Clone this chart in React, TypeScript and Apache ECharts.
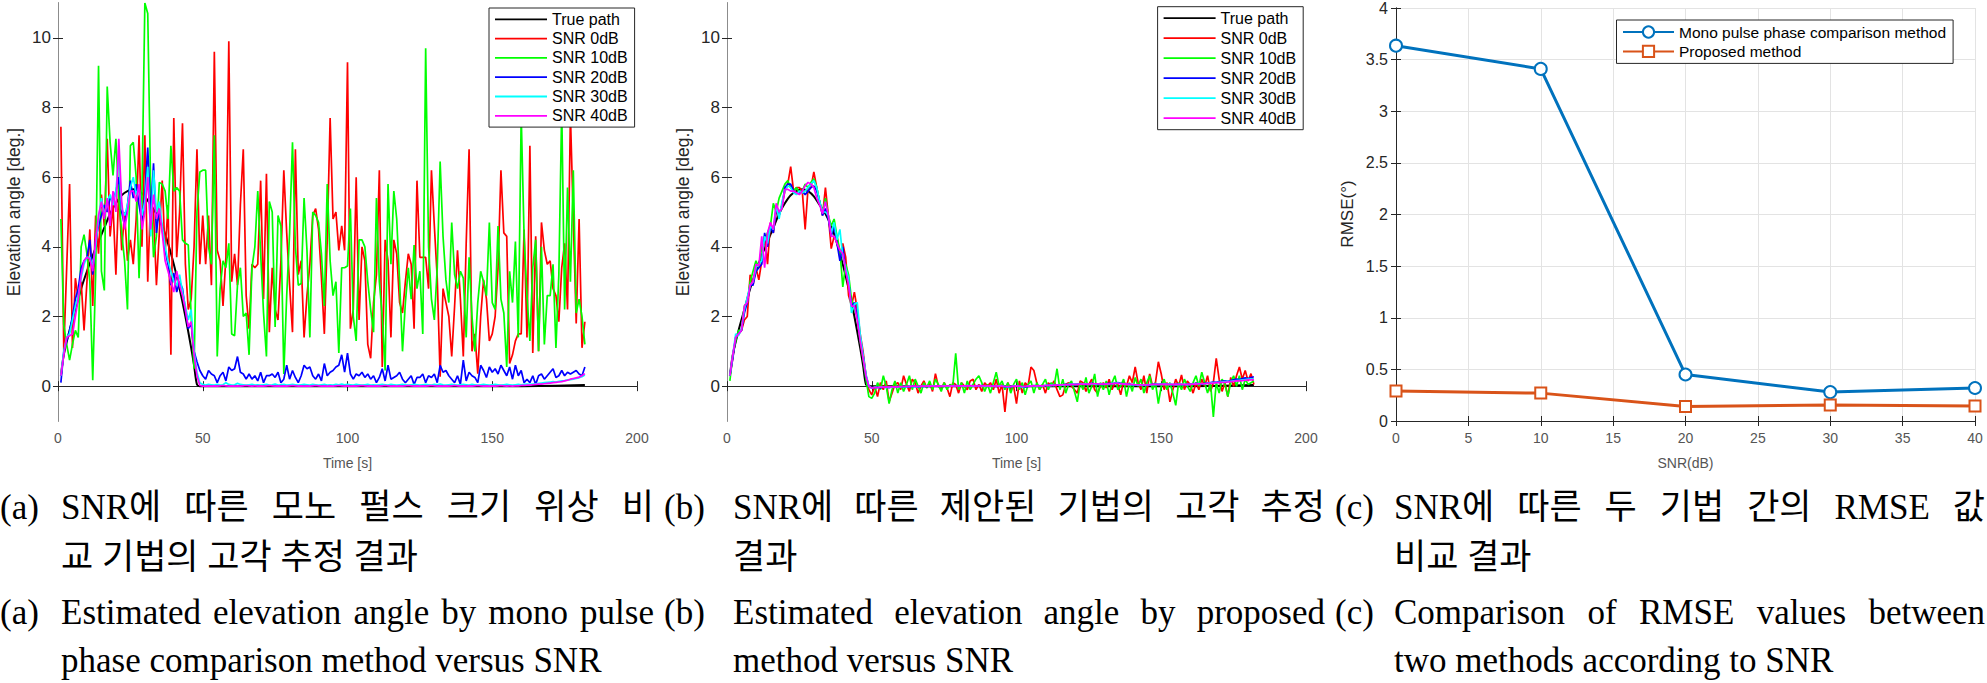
import React, { useEffect, useRef } from 'react';
import * as echarts from 'echarts';

// ---------- data ----------
const TIME = Array.from({ length: 182 }, (_, i) => i + 1);

const TRUE_PATH: number[][] = [
  [1, 0.3], [2, 0.9], [4, 1.6], [6, 2.2], [8, 2.8], [10, 3.3], [12, 3.75], [14, 4.15], [16, 4.55],
  [18, 4.95], [20, 5.25], [22, 5.48], [24, 5.6], [26, 5.65], [28, 5.6], [30, 5.45], [32, 5.2],
  [34, 4.95], [36, 4.6], [38, 4.1], [40, 3.5], [42, 2.8], [44, 2.0], [46, 1.1], [47, 0.6],
  [48, 0.05], [49, 0], [100, 0], [160, 0], [182, 0.03],
];

const A_SNR0 = [
  7.45, 1.0, 3.4, 5.8, 1.1, 3.1, 2.5, 3.0, 1.6, 3.0,
  4.5, 2.3, 4.9, 3.8, 5.5, 4.6, 7.1, 4.3, 5.2, 3.2,
  5.7, 3.9, 5.0, 3.6, 4.2, 3.5, 4.8, 7.2, 4.0, 7.2,
  3.0, 5.4, 5.0, 2.9, 4.4, 5.9, 3.8, 5.2, 0.9, 7.7,
  3.7, 5.0, 7.55, 3.5, 2.2, 2.5, 4.0, 6.8, 3.5, 4.9,
  3.5, 4.9, 2.9, 9.6, 3.9, 3.6, 2.3, 3.7, 9.9, 3.0,
  3.8, 2.9, 5.2, 6.8, 2.6, 1.65, 3.5, 3.4, 3.5, 5.9,
  2.5, 6.1, 1.55, 3.4, 2.2, 1.9, 3.6, 6.2, 4.4, 2.9,
  1.55, 6.8, 3.2, 3.6, 1.4, 2.6, 3.5, 4.9, 5.1, 4.5,
  3.1, 1.5, 4.2, 7.7, 4.8, 5.0, 3.9, 4.6, 3.9, 9.3,
  1.65, 2.2, 6.0, 1.9, 4.0, 3.6, 1.2, 0.8, 2.4, 3.2,
  6.2, 0.55, 4.2, 3.6, 1.4, 4.2, 3.8, 2.4, 2.1, 3.0,
  3.8, 3.5, 1.65, 5.9, 3.7, 3.7, 3.7, 2.8, 6.2, 4.6,
  3.1, 0.27, 2.8, 2.4, 2.0, 0.85, 2.3, 3.9, 2.5, 0.85,
  4.1, 6.8, 1.0, 1.5, 0.36, 2.0, 3.05, 2.5, 1.3, 1.5,
  2.0, 3.4, 6.2, 4.4, 4.3, 0.65, 0.9, 1.3, 1.5, 1.5,
  4.5, 1.4, 6.9, 0.95, 4.3, 1.0, 4.7, 3.9, 3.5, 3.6,
  2.8, 2.6, 1.85, 3.4, 4.1, 2.2, 7.8, 4.8, 1.8, 4.8,
  1.1, 1.85,
];

const A_SNR10 = [
  4.8, 1.75, 1.2, 0.75, 1.2, 1.6, 1.4, 4.0, 4.35, 3.8,
  3.0, 0.17, 3.2, 9.2, 3.3, 2.75, 8.6, 7.0, 6.05, 7.1,
  5.4, 4.4, 3.6, 2.2, 6.9, 7.0, 6.0, 3.1, 5.5, 11.0,
  10.7, 5.7, 3.7, 4.3, 5.85, 5.8, 5.6, 4.8, 6.9, 5.6,
  5.7, 5.6, 4.2, 4.1, 4.05, 2.0, 0.5, 5.0, 6.15, 6.2,
  6.2, 4.0, 3.5, 7.2, 0.85, 2.8, 3.6, 3.4, 4.1, 1.5,
  1.45, 2.9, 3.4, 2.0, 2.1, 0.9, 3.4, 4.0, 5.6, 3.8,
  2.1, 0.85, 5.3, 5.0, 1.7, 4.9, 4.6, 0.35, 2.6, 4.4,
  7.0, 4.0, 2.9, 2.95, 5.4, 3.9, 1.4, 5.0, 4.9, 4.7,
  3.8, 2.3, 5.8, 3.6, 2.6, 3.0, 0.95, 3.4, 3.4, 3.45,
  5.1, 2.0, 1.3, 4.2, 4.2, 4.0, 3.0, 2.2, 1.55, 5.4,
  3.0, 2.0, 0.45, 5.8, 3.5, 5.6, 4.8, 3.0, 1.0, 2.4,
  3.4, 2.5, 4.05, 2.8, 3.3, 1.5, 9.7, 4.0, 2.5, 1.9,
  3.4, 6.45, 4.3, 3.05, 2.4, 4.7, 3.2, 2.8, 3.3, 3.1,
  1.4, 3.7, 2.0, 1.0, 2.4, 3.3, 3.0, 2.6, 4.7, 2.4,
  2.2, 4.6, 2.5, 2.1, 0.55, 3.3, 2.4, 4.15, 1.4, 7.8,
  4.3, 2.6, 1.3, 3.4, 4.2, 1.0, 4.0, 1.2, 2.6, 2.6,
  3.5, 1.1, 3.2, 8.0, 2.2, 5.7, 3.0, 6.2, 2.1, 2.5,
  2.0, 1.2,
];

const A_SNR20 = [
  0.1, 1.0, 1.3, 1.6, 2.0, 2.5, 2.8, 3.4, 3.6, 3.7,
  4.2, 3.2, 4.2, 4.6, 4.9, 5.2, 5.0, 5.4, 5.3, 5.6,
  6.0, 5.0, 4.6, 5.2, 5.9, 5.4, 5.8, 5.2, 4.7, 5.5,
  6.85, 4.9, 6.4, 4.4, 5.1, 4.5, 3.9, 3.5, 2.9, 3.25,
  2.7, 3.0, 2.8, 2.2, 1.65, 1.8, 1.0, 0.7, 0.45, 0.3,
  0.2, 0.45, 0.35, 0.3, 0.1, 0.3, 0.4, 0.15, 0.55, 0.45,
  0.5, 0.85, 0.4, 0.35, 0.2, 0.35, 0.2, 0.3, 0.15, 0.4,
  0.1, 0.3, 0.3, 0.35, 0.25, 0.4, 0.1, 0.2, 0.6, 0.2,
  0.45, 0.25, 0.1, 0.3, 0.6, 0.5, 0.55, 0.3, 0.2, 0.35,
  0.15, 0.65, 0.3, 0.4, 0.45, 0.55, 0.6, 0.9, 0.4, 0.95,
  0.35, 0.2, 0.35, 0.3, 0.4, 0.25, 0.35, 0.2, 0.3, 0.1,
  0.25, 0.5, 0.15, 0.6, 0.2, 0.25, 0.3, 0.4, 0.2, 0.1,
  0.2, 0.3, 0.05, 0.25, 0.25, 0.35, 0.1, 0.3, 0.25, 0.35,
  0.1, 0.6, 0.4, 0.45, 0.3, 0.2, 0.1, 0.3, 0.05, 0.75,
  0.15, 0.4, 0.3, 0.25, 0.1, 0.6, 0.45, 0.25, 0.55, 0.4,
  0.5, 0.35, 0.6, 0.45, 0.3, 0.55, 0.2, 0.6, 0.3, 0.45,
  0.1, 0.2, 0.1, 0.3, 0.05, 0.3, 0.35, 0.2, 0.3, 0.4,
  0.5, 0.25, 0.3, 0.45, 0.3, 0.4, 0.35, 0.4, 0.45, 0.35,
  0.3, 0.55,
];

const A_SNR30 = [
  0.3, 1.0, 1.4, 1.5, 1.9, 2.3, 2.6, 3.1, 3.5, 3.7,
  3.7, 3.4, 4.0, 4.8, 5.4, 4.9, 5.3, 5.5, 5.2, 5.6,
  6.6, 5.1, 4.9, 5.2, 5.7, 6.0, 5.5, 5.7, 4.9, 5.3,
  6.3, 4.3, 6.2, 5.0, 5.3, 4.6, 4.0, 3.6, 3.3, 3.0,
  2.9, 3.2, 2.7, 2.3, 1.9, 2.2, 1.0, 0.4, 0.1, 0.05,
  0.03, 0.05, 0.04, 0.03, 0.05, 0.03, 0.04, 0.1, 0.05, 0.03,
  0.04, 0.08, 0.05, 0.04, 0.03, 0.04, 0.05, 0.03, 0.04, 0.03,
  0.04, 0.05, 0.03, 0.04, 0.06, 0.03, 0.04, 0.05, 0.03, 0.04,
  0.05, 0.04, 0.03, 0.04, 0.05, 0.04, 0.03, 0.05, 0.04, 0.03,
  0.04, 0.05, 0.03, 0.04, 0.03, 0.05, 0.04, 0.06, 0.04, 0.05,
  0.04, 0.03, 0.05, 0.04, 0.03, 0.04, 0.05, 0.03, 0.04, 0.03,
  0.04, 0.05, 0.04, 0.03, 0.05, 0.04, 0.03, 0.04, 0.05, 0.04,
  0.03, 0.04, 0.05, 0.04, 0.03, 0.04, 0.05, 0.04, 0.03, 0.05,
  0.04, 0.06, 0.04, 0.03, 0.04, 0.05, 0.04, 0.03, 0.04, 0.05,
  0.04, 0.03, 0.05, 0.04, 0.03, 0.04, 0.05, 0.04, 0.03, 0.04,
  0.05, 0.04, 0.03, 0.04, 0.05, 0.04, 0.03, 0.04, 0.05, 0.04,
  0.05, 0.06, 0.05, 0.06, 0.07, 0.08, 0.09, 0.1, 0.11, 0.12,
  0.13, 0.12, 0.14, 0.15, 0.16, 0.18, 0.19, 0.2, 0.22, 0.24,
  0.27, 0.32,
];

const A_SNR40 = [
  0.3, 0.9, 1.4, 1.45, 1.5, 2.0, 2.5, 3.2, 3.6, 3.7,
  3.65, 3.3, 4.2, 4.9, 5.3, 4.8, 5.4, 4.6, 5.6, 5.0,
  7.1, 5.3, 4.5, 5.0, 5.6, 5.6, 5.3, 5.8, 4.5, 5.0,
  6.0, 4.5, 5.5, 4.8, 5.1, 4.4, 3.6, 3.3, 3.0, 2.7,
  3.3, 2.9, 2.6, 2.2, 1.7, 1.85, 0.9, 0.3, 0.02, 0.0,
  0.0, 0.01, 0.0, 0.01, 0.0, 0.01, 0.02, 0.01, 0.0, 0.01,
  0.0, 0.01, 0.0, 0.01, 0.02, 0.01, 0.0, 0.01, 0.0, 0.01,
  0.0, 0.01, 0.02, 0.01, 0.0, 0.01, 0.0, 0.01, 0.0, 0.01,
  0.02, 0.01, 0.0, 0.01, 0.0, 0.01, 0.0, 0.01, 0.02, 0.01,
  0.0, 0.01, 0.0, 0.01, 0.0, 0.01, 0.02, 0.01, 0.0, 0.01,
  0.0, 0.01, 0.0, 0.01, 0.02, 0.01, 0.0, 0.01, 0.0, 0.01,
  0.0, 0.01, 0.02, 0.01, 0.0, 0.01, 0.0, 0.01, 0.0, 0.01,
  0.02, 0.01, 0.0, 0.01, 0.0, 0.01, 0.0, 0.01, 0.02, 0.01,
  0.0, 0.01, 0.0, 0.01, 0.0, 0.01, 0.02, 0.01, 0.0, 0.01,
  0.0, 0.01, 0.0, 0.01, 0.02, 0.01, 0.0, 0.01, 0.0, 0.01,
  0.0, 0.01, 0.02, 0.01, 0.0, 0.01, 0.0, 0.01, 0.01, 0.02,
  0.02, 0.03, 0.03, 0.04, 0.05, 0.06, 0.06, 0.07, 0.08, 0.09,
  0.1, 0.11, 0.12, 0.13, 0.15, 0.17, 0.2, 0.22, 0.24, 0.26,
  0.3, 0.36,
];

const B_SNR0 = [
  0.3, 0.8, 1.4, 1.5, 1.6, 1.9, 2.0, 3.2, 2.9, 3.4,
  3.05, 3.6, 4.3, 3.5, 4.7, 4.4, 5.0, 4.9, 5.2, 5.6,
  5.8, 6.3, 5.6, 5.7, 5.7, 5.6, 4.5, 5.7, 5.7, 6.15,
  5.7, 5.3, 4.9, 5.7, 4.9, 3.95, 4.3, 4.3, 3.7, 4.1,
  3.7, 2.6, 2.3, 2.7, 2.2, 1.5, 1.0, 0.3, -0.1, -0.25,
  0.0, -0.3, 0.1, -0.1, 0.15, -0.45, -0.2, 0.05, 0.1, -0.1,
  0.3, 0.05, -0.15, 0.2, 0.1, -0.2, 0.0, 0.15, -0.05, 0.1,
  -0.15, 0.36, 0.0, -0.1, 0.1, -0.05, -0.3, 0.1, 0.05, -0.2,
  0.1, 0.0, -0.1, 0.15, 0.2, -0.1, 0.05, -0.15, 0.1, 0.0,
  0.1, -0.1, 0.2, -0.2, 0.05, -0.74, 0.1, -0.1, 0.0, -0.5,
  0.15, -0.2, 0.1, 0.0, 0.55, 0.45, 0.1, -0.1, 0.05, -0.2,
  0.1, 0.0, 0.15, -0.1, -0.3, -0.25, 0.05, 0.1, 0.0, -0.1,
  -0.2, 0.15, 0.1, -0.15, 0.05, 0.2, -0.1, -0.2, 0.0, 0.1,
  -0.05, 0.2, -0.1, 0.1, 0.05, -0.25, 0.15, 0.0, 0.3, 0.1,
  0.55, 0.1, -0.1, 0.3, -0.2, 0.35, 0.0, 0.1, 0.7, 0.35,
  -0.1, 0.1, -0.45, -0.1, 0.2, 0.0, 0.32, -0.1, 0.15, 0.05,
  -0.2, 0.1, -0.1, 0.2, 0.0, 0.3, -0.15, 0.1, 0.8, 0.2,
  -0.15, 0.1, -0.3, 0.25, 0.0, 0.3, 0.55, 0.2, 0.45, 0.15,
  0.36, 0.05,
];

const B_SNR10 = [
  0.15, 0.9, 1.3, 1.6, 1.6, 2.3, 2.4, 3.0, 3.3, 3.6,
  3.4, 4.0, 4.2, 4.4, 4.6, 5.25, 5.0, 5.4, 5.6, 5.8,
  5.9, 5.7, 5.6, 5.7, 5.55, 5.6, 5.8, 5.7, 5.85, 5.95,
  5.7, 5.3, 5.0, 5.4, 4.9, 4.6, 4.8, 4.3, 3.9, 2.85,
  3.5, 3.2, 2.5, 2.2, 2.0, 1.3, 0.8, 0.2, -0.3, -0.35,
  -0.2, 0.1, -0.1, 0.3, 0.0, -0.5, -0.1, 0.15, -0.2, 0.1,
  -0.15, 0.05, 0.3, -0.1, 0.2, 0.0, -0.2, 0.1, -0.05, 0.15,
  -0.1, 0.2, 0.05, -0.15, 0.1, -0.1, 0.05, 0.0, 0.94, -0.1,
  0.1, -0.2, 0.15, -0.1, 0.05, 0.2, 0.3, 0.1, -0.15, 0.05,
  -0.2, 0.1, 0.4, 0.0, 0.15, -0.1, 0.1, -0.2, 0.05, 0.2,
  -0.1, 0.1, -0.25, 0.05, 0.15, -0.2, 0.1, -0.1, 0.05, 0.2,
  -0.1, 0.1, 0.0, 0.5, -0.1, 0.2, -0.2, 0.05, 0.15, -0.15,
  -0.45, 0.1, -0.1, 0.25, -0.2, 0.0, 0.35, -0.3, 0.1, -0.1,
  0.15, -0.25, 0.1, 0.3, -0.1, 0.0, 0.2, -0.3, 0.1, -0.15,
  0.25, 0.0, 0.2, -0.2, 0.1, 0.3, -0.1, 0.1, -0.5, 0.0,
  0.2, -0.1, 0.1, -0.2, -0.55, 0.1, -0.1, 0.2, 0.0, -0.15,
  0.1, 0.3, 0.0, 0.4, 0.1, -0.2, 0.1, -0.88, 0.1, -0.2,
  0.2, 0.05, -0.3, 0.1, 0.3, 0.0, 0.3, -0.1, 0.2, 0.05,
  0.1, 0.15,
];

const B_SNR20 = [
  0.3, 0.8, 1.4, 1.5, 1.6, 2.1, 2.4, 2.9, 2.9, 3.3,
  3.4, 3.5, 4.4, 4.0, 4.6, 4.4, 5.1, 4.9, 5.2, 5.7,
  5.8, 5.8, 5.6, 5.55, 5.55, 5.6, 5.5, 5.6, 5.7, 5.75,
  5.6, 5.3, 4.9, 5.1, 4.8, 4.3, 4.6, 4.1, 3.6, 4.0,
  3.3, 3.0, 2.3, 2.4, 2.0, 1.4, 0.9, 0.3, 0.0, -0.05,
  -0.04, -0.03, -0.05, -0.02, -0.03, -0.04, -0.02, -0.03, -0.01, -0.02,
  -0.02, -0.01, -0.02, 0.0, -0.01, -0.02, 0.0, -0.01, 0.0, -0.01,
  0.0, 0.01, 0.0, -0.01, 0.0, 0.01, 0.0, 0.01, 0.02, 0.0,
  0.01, 0.0, 0.01, 0.02, 0.01, 0.0, 0.01, 0.02, 0.01, 0.0,
  0.01, 0.0, -0.01, 0.0, 0.01, -0.02, -0.03, -0.02, 0.0, 0.01,
  0.0, -0.02, -0.03, -0.01, 0.0, 0.02, 0.01, 0.0, 0.01, 0.02,
  0.03, 0.02, 0.03, 0.04, 0.03, 0.04, 0.05, 0.04, 0.06, 0.05,
  0.06, 0.07, 0.06, 0.05, 0.06, 0.08, 0.07, 0.06, 0.05, 0.06,
  0.07, 0.08, 0.07, 0.09, 0.1, 0.08, 0.07, 0.06, 0.05, 0.04,
  0.03, 0.04, 0.03, 0.02, 0.03, 0.04, 0.05, 0.06, 0.05, 0.06,
  0.07, 0.06, 0.05, 0.04, 0.05, 0.06, 0.05, 0.04, 0.05, 0.06,
  0.07, 0.08, 0.07, 0.06, 0.08, 0.09, 0.1, 0.12, 0.11, 0.13,
  0.14, 0.15, 0.14, 0.16, 0.18, 0.2, 0.19, 0.22, 0.24, 0.22,
  0.25, 0.27,
];

const B_SNR30 = [
  0.3, 0.9, 1.5, 1.45, 1.65, 2.2, 2.55, 2.9, 3.0, 3.4,
  3.5, 3.6, 4.3, 4.1, 4.6, 4.5, 5.2, 4.8, 5.3, 5.6,
  5.75, 5.7, 5.55, 5.5, 5.6, 5.55, 5.6, 5.7, 5.8, 5.9,
  5.7, 5.3, 5.0, 5.0, 4.9, 4.4, 4.7, 4.2, 4.5, 3.7,
  3.4, 3.1, 2.1, 2.35, 2.4, 1.5, 0.9, 0.35, 0.0, -0.05,
  -0.03, -0.04, -0.02, -0.03, -0.04, -0.02, -0.03, -0.02, -0.01, -0.02,
  -0.01, -0.02, 0.0, -0.01, -0.02, -0.01, 0.0, -0.01, 0.0, 0.0,
  0.01, 0.0, -0.01, 0.0, 0.01, 0.0, 0.01, 0.0, 0.01, 0.02,
  0.01, 0.0, 0.02, 0.01, 0.0, 0.01, 0.02, 0.01, 0.0, 0.01,
  0.0, -0.01, 0.0, 0.01, 0.0, -0.01, -0.02, -0.01, 0.0, 0.0,
  -0.01, -0.02, -0.01, 0.0, 0.01, 0.01, 0.0, 0.02, 0.01, 0.02,
  0.02, 0.03, 0.02, 0.03, 0.04, 0.03, 0.04, 0.05, 0.05, 0.06,
  0.05, 0.06, 0.07, 0.06, 0.05, 0.07, 0.06, 0.07, 0.06, 0.05,
  0.06, 0.07, 0.08, 0.08, 0.09, 0.07, 0.06, 0.05, 0.04, 0.05,
  0.04, 0.03, 0.04, 0.03, 0.04, 0.05, 0.04, 0.05, 0.06, 0.05,
  0.06, 0.05, 0.06, 0.05, 0.04, 0.05, 0.06, 0.05, 0.04, 0.05,
  0.06, 0.07, 0.08, 0.07, 0.07, 0.08, 0.09, 0.1, 0.1, 0.11,
  0.12, 0.13, 0.13, 0.14, 0.15, 0.16, 0.17, 0.18, 0.19, 0.2,
  0.2, 0.21,
];

const B_SNR40 = [
  0.3, 0.9, 1.4, 1.5, 1.6, 2.3, 2.4, 2.9, 3.0, 3.5,
  3.45, 4.3, 3.4, 4.4, 4.7, 4.5, 5.25, 5.0, 5.1, 5.65,
  5.65, 5.6, 5.6, 5.55, 5.5, 5.6, 5.75, 5.85, 5.8, 5.7,
  5.4, 5.2, 4.95, 5.3, 4.9, 4.3, 4.3, 4.1, 3.9, 3.8,
  3.3, 2.9, 2.3, 2.3, 1.9, 1.3, 0.8, 0.3, 0.0, -0.05,
  -0.04, -0.04, -0.03, -0.03, -0.03, -0.02, -0.02, -0.02, -0.02, -0.01,
  -0.01, -0.01, -0.01, 0.0, 0.0, -0.01, 0.0, 0.0, 0.0, 0.0,
  0.0, 0.0, 0.01, 0.0, 0.0, 0.01, 0.01, 0.0, 0.01, 0.01,
  0.01, 0.01, 0.01, 0.01, 0.01, 0.01, 0.01, 0.01, 0.01, 0.01,
  0.0, 0.0, 0.0, 0.0, 0.0, -0.01, -0.01, -0.01, 0.0, 0.0,
  0.0, -0.01, -0.01, 0.0, 0.0, 0.01, 0.01, 0.01, 0.01, 0.02,
  0.02, 0.02, 0.03, 0.03, 0.03, 0.04, 0.04, 0.04, 0.05, 0.05,
  0.05, 0.06, 0.06, 0.06, 0.06, 0.07, 0.07, 0.07, 0.06, 0.06,
  0.06, 0.07, 0.07, 0.08, 0.08, 0.07, 0.06, 0.06, 0.05, 0.05,
  0.04, 0.04, 0.04, 0.03, 0.04, 0.04, 0.05, 0.05, 0.05, 0.05,
  0.06, 0.05, 0.05, 0.05, 0.05, 0.05, 0.05, 0.05, 0.05, 0.05,
  0.06, 0.06, 0.07, 0.07, 0.07, 0.08, 0.08, 0.09, 0.1, 0.1,
  0.11, 0.11, 0.12, 0.13, 0.14, 0.15, 0.15, 0.16, 0.17, 0.18,
  0.18, 0.19,
];

const SNR_DB = [0, 10, 20, 30, 40];
const RMSE_MONO = [3.635, 3.41, 0.45, 0.28, 0.32];
const RMSE_PROPOSED = [0.29, 0.27, 0.14, 0.155, 0.145];

const ELEV_TICKS = [0, 2, 4, 6, 8, 10];
const SERIES_NAMES = ['True path', 'SNR 0dB', 'SNR 10dB', 'SNR 20dB', 'SNR 30dB', 'SNR 40dB'];
const SERIES_COLORS = ['#000000', '#ff0000', '#00ff00', '#0000ff', '#00ffff', '#ff00ff'];
const C_NAMES = ['Mono pulse phase comparison method', 'Proposed method'];

const CAPTIONS = [
  {
    label: ['(a)', '(a)'],
    ko: [['SNR에', '따른', '모노', '펄스', '크기', '위상', '비'], '교 기법의 고각 추정 결과'],
    en: [['Estimated', 'elevation', 'angle', 'by', 'mono', 'pulse'], 'phase comparison method versus SNR'],
  },
  {
    label: ['(b)', '(b)'],
    ko: [['SNR에', '따른', '제안된', '기법의', '고각', '추정'], '결과'],
    en: [['Estimated', 'elevation', 'angle', 'by', 'proposed'], 'method versus SNR'],
  },
  {
    label: ['(c)', '(c)'],
    ko: [['SNR에', '따른', '두', '기법', '간의', 'RMSE', '값'], '비교 결과'],
    en: [['Comparison', 'of', 'RMSE', 'values', 'between'], 'two methods according to SNR'],
  },
];

// ---------- helpers ----------
const SANS = '"Liberation Sans", Arial, sans-serif';
const SERIF = '"Liberation Serif", "Noto Sans CJK KR", serif';
const DARK = '#262626';
const GREYLINE = '#8c8c8c';
// thin horizontal bar used as the legend line sample (bbox 52 x 16)
const LINE_ICON = 'path://M0,0 M0,7.1 L52,7.1 L52,8.9 L0,8.9 Z M52,16';

const pairs = (arr: number[]) => TIME.map((t, i) => [t, arr[i]]);

let measureCtx: CanvasRenderingContext2D | null = null;
function measure(text: string, size: number) {
  if (!measureCtx) measureCtx = document.createElement('canvas').getContext('2d');
  measureCtx!.font = `${size}px ${SERIF}`;
  return measureCtx!.measureText(text).width;
}

function justified(words: string[], x0: number, x1: number, y: number, size: number) {
  const widths = words.map((w) => measure(w, size));
  const total = widths.reduce((a, b) => a + b, 0);
  const gap = words.length > 1 ? (x1 - x0 - total) / (words.length - 1) : 0;
  let x = x0;
  return words.map((w, i) => {
    const el = {
      type: 'text', x, y,
      style: { text: w, fontSize: size, fontFamily: SERIF, fill: '#000', align: 'left', verticalAlign: 'middle' },
    };
    x += widths[i] + gap;
    return el;
  });
}

function plainText(text: string, x: number, y: number, size: number) {
  return {
    type: 'text', x, y,
    style: { text, fontSize: size, fontFamily: SERIF, fill: '#000', align: 'left', verticalAlign: 'middle' },
  };
}

export default function App() {
  const ref = useRef<HTMLDivElement>(null);

  useEffect(() => {
    if (!ref.current) return;
    const chart = echarts.init(ref.current, undefined, { renderer: 'svg' });

    const grids = [
      { left: 58, top: 3, width: 579, height: 418 },
      { left: 727, top: 3, width: 579, height: 418 },
      { left: 1396, top: 7, width: 579, height: 414 },
    ];

    const xAxes: any[] = [];
    const yAxes: any[] = [];
    [0, 1].forEach((g) => {
      xAxes.push({
        gridIndex: g, type: 'value', min: 0, max: 200, interval: 50, position: 'bottom',
        axisLine: { show: true, lineStyle: { color: GREYLINE, width: 1 } },
        axisTick: { show: true, inside: true, length: 5, lineStyle: { color: DARK } },
        axisLabel: { color: '#555', fontSize: 14, fontFamily: SANS, margin: 10 },
        splitLine: { show: false },
      });
      xAxes.push({
        gridIndex: g, type: 'value', min: 0, max: 200, interval: 50, position: 'top',
        axisLine: { show: true, lineStyle: { color: DARK, width: 1 } },
        axisTick: { show: true, inside: true, length: 5, lineStyle: { color: DARK } },
        axisLabel: { show: false }, splitLine: { show: false },
      });
      yAxes.push({
        gridIndex: g, type: 'value', min: -1, max: 11, position: 'left',
        axisLine: { show: true, lineStyle: { color: DARK, width: 1 } },
        axisTick: { show: true, inside: true, length: 5, customValues: ELEV_TICKS, lineStyle: { color: DARK } },
        axisLabel: { customValues: ELEV_TICKS, color: DARK, fontSize: 17, fontFamily: SANS, margin: 7 },
        splitLine: { show: false },
      });
      yAxes.push({
        gridIndex: g, type: 'value', min: -1, max: 11, position: 'right',
        axisLine: { show: true, lineStyle: { color: GREYLINE, width: 1 } },
        axisTick: { show: true, inside: true, length: 5, customValues: ELEV_TICKS, lineStyle: { color: DARK } },
        axisLabel: { show: false }, splitLine: { show: false },
      });
    });
    // panel c
    xAxes.push({
      gridIndex: 2, type: 'value', min: 0, max: 40, interval: 5, position: 'bottom',
      axisLine: { show: true, lineStyle: { color: DARK, width: 1 } },
      axisTick: { show: true, inside: true, length: 5, lineStyle: { color: DARK } },
      axisLabel: { color: '#555', fontSize: 14, fontFamily: SANS, margin: 10 },
      splitLine: { show: true, lineStyle: { color: '#e3e3e3', width: 1 } },
    });
    xAxes.push({
      gridIndex: 2, type: 'value', min: 0, max: 40, interval: 5, position: 'top',
      axisLine: { show: true, lineStyle: { color: DARK, width: 1 } },
      axisTick: { show: true, inside: true, length: 5, lineStyle: { color: DARK } },
      axisLabel: { show: false }, splitLine: { show: false },
    });
    yAxes.push({
      gridIndex: 2, type: 'value', min: 0, max: 4, interval: 0.5, position: 'left',
      axisLine: { show: true, lineStyle: { color: DARK, width: 1 } },
      axisTick: { show: true, inside: true, length: 5, lineStyle: { color: DARK } },
      axisLabel: { color: DARK, fontSize: 16, fontFamily: SANS, margin: 8 },
      splitLine: { show: true, lineStyle: { color: '#e3e3e3', width: 1 } },
    });
    yAxes.push({
      gridIndex: 2, type: 'value', min: 0, max: 4, interval: 0.5, position: 'right',
      axisLine: { show: true, lineStyle: { color: DARK, width: 1 } },
      axisTick: { show: true, inside: true, length: 5, lineStyle: { color: DARK } },
      axisLabel: { show: false }, splitLine: { show: false },
    });

    const panelSeries = (g: number, sets: number[][][]) =>
      sets.map((data, i) => ({
        type: 'line', name: SERIES_NAMES[i], xAxisIndex: 2 * g, yAxisIndex: 2 * g,
        data, symbol: 'none', showSymbol: false, smooth: i === 0 ? 0.3 : false,
        lineStyle: { color: SERIES_COLORS[i], width: i === 0 ? 2 : 1.7 },
        itemStyle: { color: SERIES_COLORS[i] },
        z: 2 + i * 0.01,
      }));

    const series: any[] = [
      ...panelSeries(0, [TRUE_PATH, pairs(A_SNR0), pairs(A_SNR10), pairs(A_SNR20), pairs(A_SNR30), pairs(A_SNR40)]),
      ...panelSeries(1, [TRUE_PATH, pairs(B_SNR0), pairs(B_SNR10), pairs(B_SNR20), pairs(B_SNR30), pairs(B_SNR40)]),
      {
        type: 'line', name: C_NAMES[0], xAxisIndex: 4, yAxisIndex: 4,
        data: SNR_DB.map((s, i) => [s, RMSE_MONO[i]]),
        symbol: 'emptyCircle', symbolSize: 12,
        lineStyle: { color: '#0072BD', width: 3 },
        itemStyle: { color: '#0072BD', borderWidth: 2.5 },
      },
      {
        type: 'line', name: C_NAMES[1], xAxisIndex: 4, yAxisIndex: 4,
        data: SNR_DB.map((s, i) => [s, RMSE_PROPOSED[i]]),
        symbol: 'emptyRect', symbolSize: 11,
        lineStyle: { color: '#D95319', width: 3 },
        itemStyle: { color: '#D95319', borderWidth: 2.5 },
      },
    ];

    const legendBase = {
      orient: 'vertical', backgroundColor: '#ffffff', borderColor: DARK, borderWidth: 1, borderRadius: 0,
      selectedMode: false, z: 20,
    };

    const graphics: any[] = [];
    // axis names
    [0, 1].forEach((g) => {
      const gr = grids[g];
      graphics.push({
        type: 'text', x: gr.left - 44.3, y: 212, rotation: Math.PI / 2,
        style: { text: 'Elevation angle [deg.]', fontSize: 17.5, fontFamily: SANS, fill: DARK, align: 'center', verticalAlign: 'middle' },
      });
      graphics.push({
        type: 'text', x: gr.left + gr.width / 2, y: 463,
        style: { text: 'Time [s]', fontSize: 14, fontFamily: SANS, fill: '#555', align: 'center', verticalAlign: 'middle' },
      });
    });
    graphics.push({
      type: 'text', x: 1347, y: 214, rotation: Math.PI / 2,
      style: { text: 'RMSE(°)', fontSize: 17, fontFamily: SANS, fill: DARK, align: 'center', verticalAlign: 'middle' },
    });
    graphics.push({
      type: 'text', x: 1685.5, y: 463,
      style: { text: 'SNR(dB)', fontSize: 14, fontFamily: SANS, fill: '#555', align: 'center', verticalAlign: 'middle' },
    });

    // captions
    const FS = 35;
    const cols = [
      { lx: 0, x0: 61, x1: 654 },
      { lx: 664, x0: 733, x1: 1325 },
      { lx: 1335, x0: 1394, x1: 1985 },
    ];
    const LINES_Y = [507, 557, 612, 660];
    CAPTIONS.forEach((cap, i) => {
      const c = cols[i];
      graphics.push(plainText(cap.label[0], c.lx, LINES_Y[0], FS));
      graphics.push(...justified(cap.ko[0] as string[], c.x0, c.x1, LINES_Y[0], FS));
      graphics.push(plainText(cap.ko[1] as string, c.x0, LINES_Y[1], FS));
      graphics.push(plainText(cap.label[1], c.lx, LINES_Y[2], FS));
      graphics.push(...justified(cap.en[0] as string[], c.x0, c.x1, LINES_Y[2], FS));
      graphics.push(plainText(cap.en[1] as string, c.x0, LINES_Y[3], FS));
    });

    const lineLegendData = SERIES_NAMES.map((n) => ({ name: n, icon: LINE_ICON }));

    chart.setOption({
      animation: false,
      backgroundColor: '#ffffff',
      grid: grids,
      xAxis: xAxes,
      yAxis: yAxes,
      legend: [
        {
          ...legendBase, left: 489, top: 8, data: lineLegendData, symbolKeepAspect: false,
          padding: [3.3, 7, 3.3, 6], itemWidth: 52, itemHeight: 16, itemGap: 3.3,
          textStyle: { fontSize: 16, fontFamily: SANS, color: '#000', lineHeight: 16 },
        },
        {
          ...legendBase, left: 1157.6, top: 6.7, data: lineLegendData, symbolKeepAspect: false,
          padding: [3.5, 7, 3.5, 6], itemWidth: 52, itemHeight: 16, itemGap: 4,
          textStyle: { fontSize: 16, fontFamily: SANS, color: '#000', lineHeight: 16 },
        },
        {
          ...legendBase, left: 1616.5, top: 20, data: C_NAMES,
          padding: [4, 7, 4, 5.5], itemWidth: 51, itemHeight: 14, itemGap: 3.4,
          textStyle: { fontSize: 15.5, fontFamily: SANS, color: '#000', lineHeight: 16 },
        },
      ],
      series,
      graphic: { elements: graphics },
    });

    return () => chart.dispose();
  }, []);

  return (
    <div
      ref={ref}
      style={{ position: 'absolute', left: 0, top: 0, width: 1987, height: 683, background: '#fff' }}
    />
  );
}
